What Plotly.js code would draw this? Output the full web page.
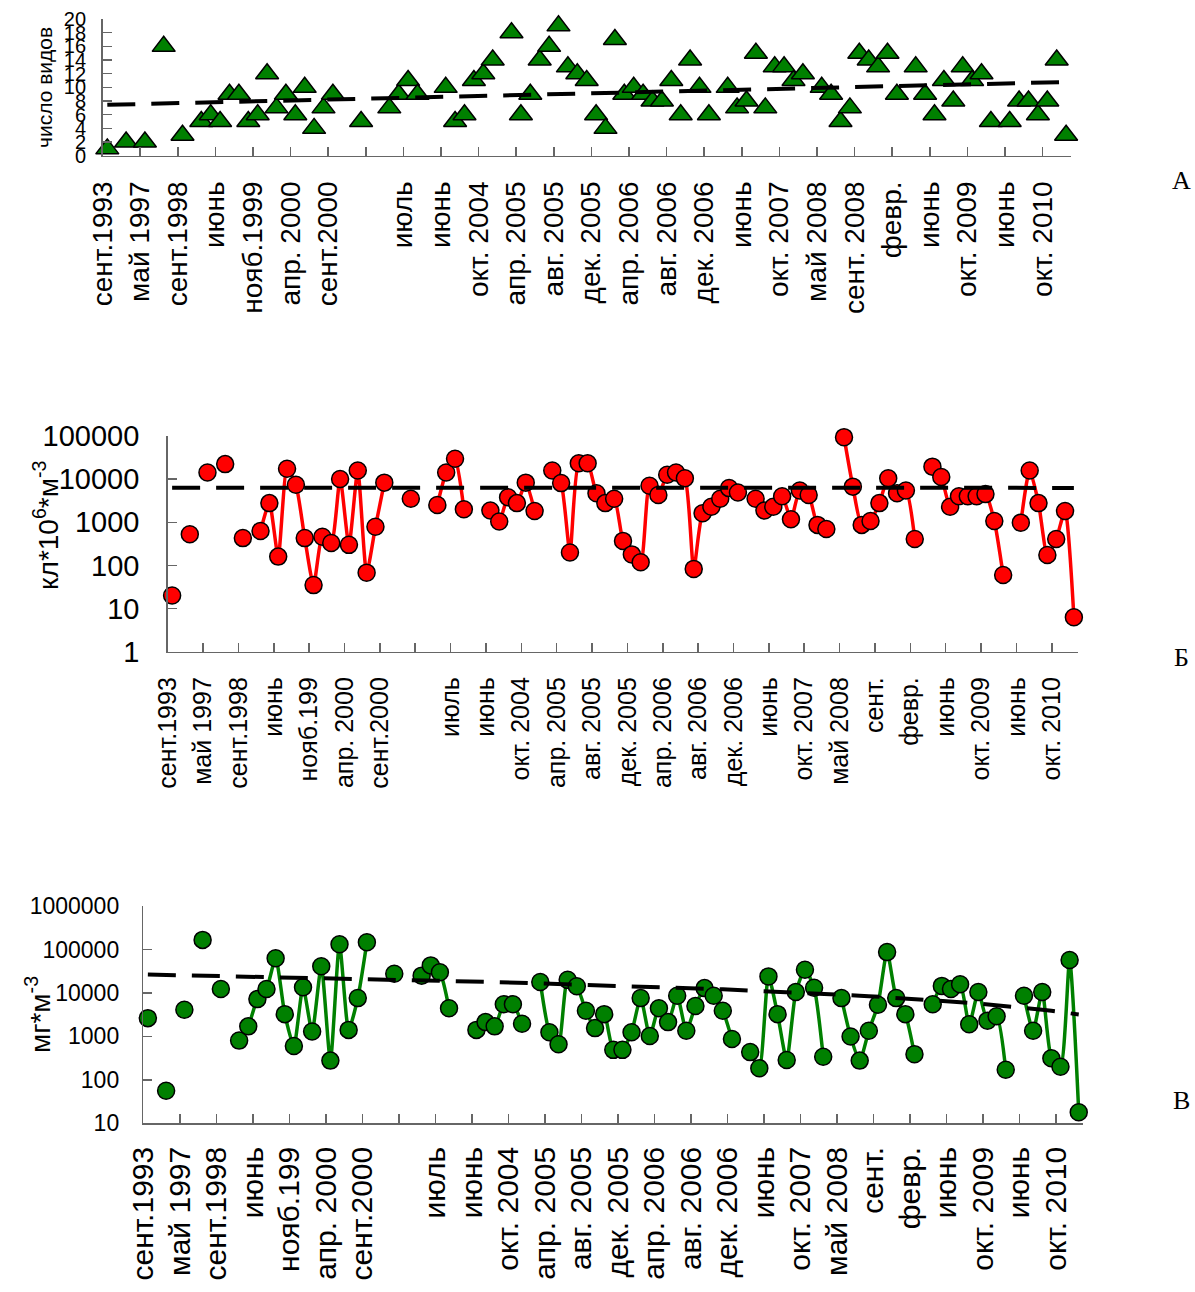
<!DOCTYPE html>
<html><head><meta charset="utf-8">
<script src="https://cdn.plot.ly/plotly-3.0.1.min.js"></script>
<style>html,body{margin:0;padding:0;background:#fff;} #chart{width:1195px;height:1292px;}</style>
</head><body><div id="chart"></div>
<script>
const W = 1195, H = 1292;

// Tick labels (one label for every 4th category)
const tickLabelsA = ["сент.1993","май 1997","сент.1998","июнь","нояб.1999","апр. 2000","сент.2000","","июль","июнь","окт. 2004","апр. 2005","авг. 2005","дек. 2005","апр. 2006","авг. 2006","дек. 2006","июнь","окт. 2007","май 2008","сент. 2008","февр.","июнь","окт. 2009","июнь","окт. 2010"];
const tickLabelsBV = ["сент.1993","май 1997","сент.1998","июнь","нояб.199","апр. 2000","сент.2000","","июль","июнь","окт. 2004","апр. 2005","авг. 2005","дек. 2005","апр. 2006","авг. 2006","дек. 2006","июнь","окт. 2007","май 2008","сент.","февр.","июнь","окт. 2009","июнь","окт. 2010"];
const labelEvery = 4;

// А: число видов (103 sampling categories, null = no sample)
const speciesCount = [1,null,2,null,2,null,16,null,3,null,
  5,6,5,9,9,5,6,12,7,9,
  6,10,4,7,9,null,null,5,null,null,
  7,9,11,9,null,null,10,5,6,11,
  12,14,null,18,6,9,14,16,19,13,
  12,11,6,4,17,9,10,9,8,8,
  11,6,14,10,6,null,10,7,8,15,
  7,13,13,11,12,null,10,9,5,7,
  15,14,13,15,9,null,13,9,6,11,
  8,13,11,12,5,null,5,8,8,6,
  8,14,3];

// Б: численность, кл*10^6*м^-3
const abundance = [20,null,530,null,14200,null,22300,null,430,null,
  630,2780,160,17400,7400,430,35,460,330,10100,
  300,15800,68,790,8300,null,null,3500,null,null,
  2520,14200,29600,2000,null,null,1870,1040,3800,2780,
  8300,1830,null,15800,8100,200,23400,23400,4700,2780,
  3500,370,180,118,7000,4300,12600,14200,10500,83,
  1620,2300,3500,6200,4900,null,3500,1870,2300,4000,
  1180,5450,4300,870,700,null,94000,6700,870,1070,
  2780,10500,4700,5450,410,null,19500,11200,2300,4000,
  4000,4000,4500,1070,60,null,980,15800,2780,175,
  410,1830,6.3];

// В: биомасса, мг*м^-3
const biomass = [2630,null,56,null,4100,null,166000,null,12300,null,
  800,1700,7200,12300,63000,3250,600,13500,1290,41000,
  277,132000,1410,7600,147000,null,null,27500,null,null,
  25000,43000,30000,4450,null,null,1410,2130,1700,5500,
  5500,1950,null,17800,1250,660,20000,14200,3900,1550,
  3250,490,490,1250,7600,1020,4450,2130,8600,1350,
  5000,12900,8600,3900,870,null,435,185,24000,3250,
  287,10500,34000,13200,340,null,7600,990,277,1350,
  5350,87000,7600,3250,390,null,5500,14500,12300,15900,
  1900,10500,2300,2900,170,null,8600,1350,10500,315,
  200,57000,18];

const nCat = speciesCount.length;
const idx = Array.from({length: nCat}, (_, i) => i);

// least-squares linear trend (as Excel's linear trendline)
function linearTrend(ys) {
  let n = 0, sx = 0, sy = 0, sxx = 0, sxy = 0;
  ys.forEach((v, i) => { if (v !== null) { n++; sx += i; sy += v; sxx += i * i; sxy += i * v; } });
  const b = (n * sxy - sx * sy) / (n * sxx - sx * sx);
  const a = (sy - b * sx) / n;
  return idx.map(i => a + b * i);
}

function dom(l, r, t, b) { return {x: [l / W, r / W], y: [1 - b / H, 1 - t / H]}; }
const dA = dom(102.6, 1070.8, 19, 155.7);
const dB = dom(167.7, 1078.3, 436, 651.7);
const dC = dom(143.3, 1083.3, 906, 1123.3);

const FONT = "Arial, 'Liberation Sans', sans-serif";
const SERIF = "'Liberation Serif', 'Times New Roman', serif";
const AX = '#666';

function xAxis(d, labels, halfCatPx, size, standoff, anchor) {
  return {
    domain: d.x, anchor: anchor, range: [-0.5, nCat - 0.5],
    tickmode: 'array',
    tickvals: labels.map((_, k) => k * labelEvery - 0.5),
    ticktext: labels,
    ticks: 'inside', ticklen: 9, tickwidth: 1.5, tickcolor: AX,
    showline: true, linecolor: AX, linewidth: 1.5,
    tickangle: -90, ticklabelshift: halfCatPx, ticklabelstandoff: standoff,
    showgrid: false, zeroline: false,
    tickfont: {family: FONT, size: size, color: '#000'}
  };
}
function yAxis(d, extra, anchor) {
  return Object.assign({
    domain: d.y, anchor: anchor,
    ticks: 'inside', ticklen: 9, tickwidth: 1.5, tickcolor: AX,
    showline: true, linecolor: AX, linewidth: 1.5,
    showgrid: false, zeroline: false
  }, extra);
}

const trendLine = {color: '#000', width: 4, dash: '28px,16px'};

const traces = [
  {x: idx, y: speciesCount, xaxis: 'x', yaxis: 'y', mode: 'markers', cliponaxis: false,
   marker: {symbol: 'triangle-up', size: 20, color: '#008000', line: {color: '#000', width: 1.5}}},
  {x: idx, y: abundance, xaxis: 'x2', yaxis: 'y2', mode: 'lines+markers', cliponaxis: false, connectgaps: false,
   line: {color: '#ff0000', width: 3.5, shape: 'spline', smoothing: 0.6},
   marker: {size: 17, color: '#ff0000', line: {color: '#000', width: 1.5}}},
  {x: idx, y: biomass, xaxis: 'x3', yaxis: 'y3', mode: 'lines+markers', cliponaxis: false, connectgaps: false,
   line: {color: '#008000', width: 3.5, shape: 'spline', smoothing: 0.6},
   marker: {size: 17, color: '#008000', line: {color: '#000', width: 1.5}}},
  {x: idx, y: linearTrend(speciesCount), xaxis: 'x', yaxis: 'y', mode: 'lines', line: trendLine},
  {x: idx, y: linearTrend(abundance), xaxis: 'x2', yaxis: 'y2', mode: 'lines', line: trendLine},
  {x: idx, y: linearTrend(biomass), xaxis: 'x3', yaxis: 'y3', mode: 'lines', line: trendLine}
];

const layout = {
  width: W, height: H, margin: {l: 0, r: 0, t: 0, b: 0},
  paper_bgcolor: '#fff', plot_bgcolor: '#fff', showlegend: false,
  font: {family: FONT, color: '#000'},
  xaxis: xAxis(dA, tickLabelsA, 4.7, 28, 13, 'y'),
  xaxis2: xAxis(dB, tickLabelsBV, 4.4, 25, 14, 'y2'),
  xaxis3: xAxis(dC, tickLabelsBV, 4.6, 30, 10, 'y3'),
  yaxis: yAxis(dA, {range: [0, 20], tickmode: 'array', tickvals: [0,2,4,6,8,10,12,14,16,18,20],
    tickfont: {family: FONT, size: 20}, ticklabelstandoff: 11}, 'x'),
  yaxis2: yAxis(dB, {type: 'log', range: [0, 5], tickmode: 'array',
    tickvals: [1,10,100,1000,10000,100000], ticktext: ['1','10','100','1000','10000','100000'],
    tickfont: {family: FONT, size: 29}, ticklabelstandoff: 21}, 'x2'),
  yaxis3: yAxis(dC, {type: 'log', range: [1, 6], tickmode: 'array',
    tickvals: [10,100,1000,10000,100000,1000000], ticktext: ['10','100','1000','10000','100000','1000000'],
    tickfont: {family: FONT, size: 23}, ticklabelstandoff: 18}, 'x3'),
  annotations: [
    {text: 'число видов', xref: 'paper', yref: 'paper', x: 44 / W, y: 1 - 88 / H, textangle: -90,
     showarrow: false, xanchor: 'center', yanchor: 'middle', font: {family: FONT, size: 21}},
    {text: 'кл*10<sup>6</sup>*м<sup>-3</sup>', xref: 'paper', yref: 'paper', x: 46 / W, y: 1 - 525 / H, textangle: -90,
     showarrow: false, xanchor: 'center', yanchor: 'middle', font: {family: FONT, size: 28}},
    {text: 'мг*м<sup>-3</sup>', xref: 'paper', yref: 'paper', x: 38 / W, y: 1 - 1015 / H, textangle: -90,
     showarrow: false, xanchor: 'center', yanchor: 'middle', font: {family: FONT, size: 28}},
    {text: 'А', xref: 'paper', yref: 'paper', x: 1181 / W, y: 1 - 180 / H, showarrow: false,
     xanchor: 'center', yanchor: 'middle', font: {family: SERIF, size: 26}},
    {text: 'Б', xref: 'paper', yref: 'paper', x: 1181 / W, y: 1 - 657 / H, showarrow: false,
     xanchor: 'center', yanchor: 'middle', font: {family: SERIF, size: 26}},
    {text: 'В', xref: 'paper', yref: 'paper', x: 1181 / W, y: 1 - 1100 / H, showarrow: false,
     xanchor: 'center', yanchor: 'middle', font: {family: SERIF, size: 26}}
  ]
};

Plotly.newPlot('chart', traces, layout, {staticPlot: true, displayModeBar: false});
</script>
</body></html>
